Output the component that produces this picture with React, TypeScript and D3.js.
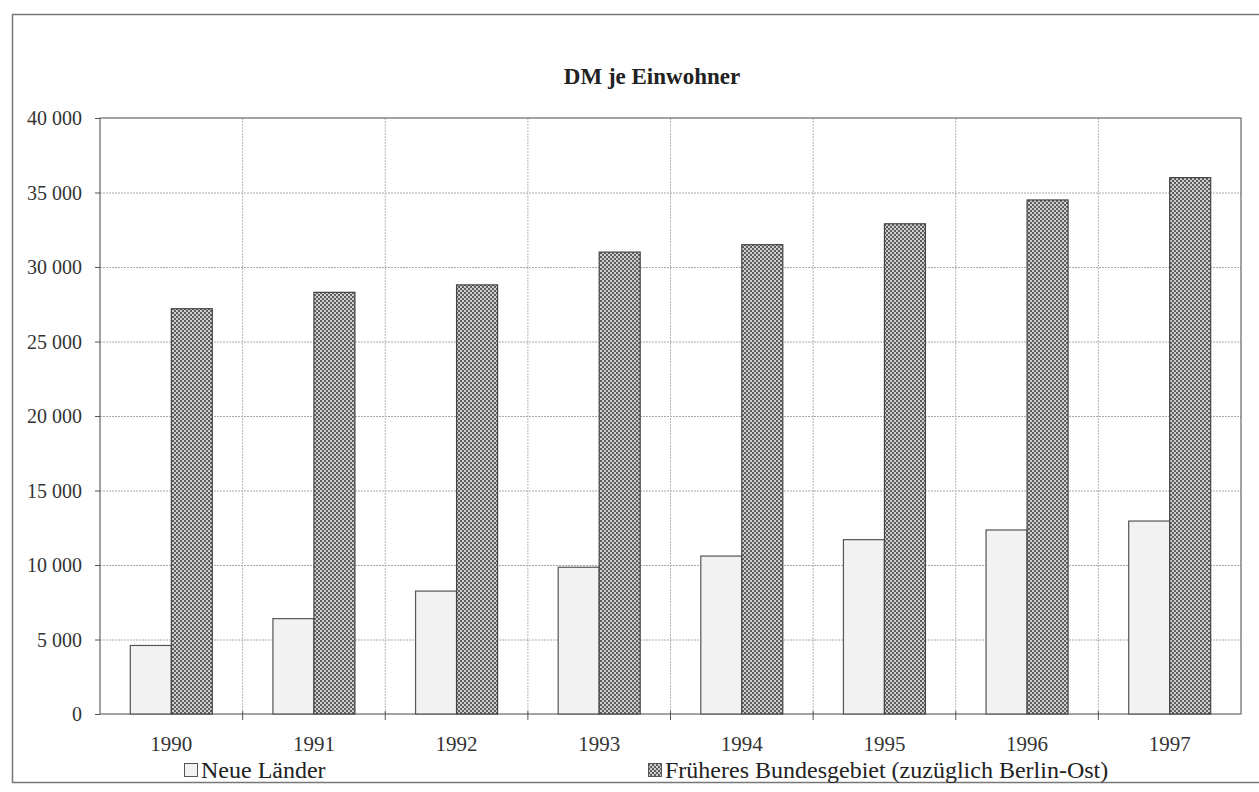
import React, { useEffect, useRef } from 'react';
import * as d3 from 'd3';

const years = ['1990', '1991', '1992', '1993', '1994', '1995', '1996', '1997'];
const neueLaender = [4600, 6400, 8250, 9850, 10600, 11700, 12350, 12950];
const frueheresGebiet = [27200, 28300, 28800, 31000, 31500, 32900, 34500, 36000];
const yTicks = [0, 5000, 10000, 15000, 20000, 25000, 30000, 35000, 40000];
const seriesNames = ['Neue Länder', 'Früheres Bundesgebiet (zuzüglich Berlin-Ost)'];

const W = 1259;
const H = 792;

export default function App() {
  const svgRef = useRef<SVGSVGElement>(null);

  useEffect(() => {
    if (!svgRef.current) return;
    const svg = d3.select(svgRef.current);
    svg.selectAll('*').remove();

    const font = '"Liberation Serif", "DejaVu Serif", serif';
    const margin = { top: 118, right: 18, bottom: 78, left: 100 };
    const x0 = margin.left;
    const x1 = W - margin.right;
    const y0 = H - margin.bottom;
    const y1 = margin.top;

    // checker pattern for the dark series
    const defs = svg.append('defs');
    const pat = defs.append('pattern')
      .attr('id', 'checker')
      .attr('width', 4)
      .attr('height', 4)
      .attr('patternUnits', 'userSpaceOnUse');
    pat.append('rect').attr('width', 4).attr('height', 4).attr('fill', '#cfcfcf');
    pat.append('rect').attr('width', 2).attr('height', 2).attr('fill', '#5e5e5e');
    pat.append('rect').attr('x', 2).attr('y', 2).attr('width', 2).attr('height', 2).attr('fill', '#5e5e5e');

    // outer frame (runs off the right edge)
    svg.append('rect')
      .attr('x', 12.5).attr('y', 14.5)
      .attr('width', W + 20).attr('height', 768)
      .attr('fill', 'none').attr('stroke', '#777').attr('stroke-width', 1.5);

    const x = d3.scaleBand<string>().domain(years).range([x0, x1]);
    const y = d3.scaleLinear().domain([0, 40000]).range([y0, y1]);

    // gridlines
    const g = svg.append('g');
    g.selectAll('.hgrid')
      .data(yTicks.filter(t => t > 0 && t < 40000))
      .enter()
      .append('line')
      .attr('x1', x0).attr('x2', x1)
      .attr('y1', d => y(d) + 0.5).attr('y2', d => y(d) + 0.5)
      .attr('stroke', '#a8a8a8').attr('stroke-dasharray', '2,1');
    g.selectAll('.vgrid')
      .data(years.slice(1))
      .enter()
      .append('line')
      .attr('x1', d => x(d)!).attr('x2', d => x(d)!)
      .attr('y1', y1).attr('y2', y0)
      .attr('stroke', '#b5b5b5').attr('stroke-dasharray', '2,1');

    // plot frame
    svg.append('rect')
      .attr('x', x0).attr('y', y1)
      .attr('width', x1 - x0).attr('height', y0 - y1)
      .attr('fill', 'none').attr('stroke', '#666').attr('stroke-width', 1.2);

    const barW = 41;
    const bars = svg.append('g');
    years.forEach((yr, i) => {
      const c = x(yr)! + x.bandwidth() / 2;
      bars.append('rect')
        .attr('x', c - barW).attr('y', y(neueLaender[i]))
        .attr('width', barW).attr('height', y0 - y(neueLaender[i]))
        .attr('fill', '#f2f2f2').attr('stroke', '#555').attr('stroke-width', 1.2);
      bars.append('rect')
        .attr('x', c).attr('y', y(frueheresGebiet[i]))
        .attr('width', barW).attr('height', y0 - y(frueheresGebiet[i]))
        .attr('fill', 'url(#checker)').attr('stroke', '#444').attr('stroke-width', 1.2);
    });

    // axes
    const yAxis = svg.append('g')
      .attr('transform', `translate(${x0},0)`)
      .call(d3.axisLeft(y).tickValues(yTicks).tickSize(5).tickPadding(13)
        .tickFormat(d => d3.format(',')(d as number).replace(',', ' ')));
    yAxis.select('.domain').remove();
    yAxis.selectAll('line').attr('stroke', '#555');
    yAxis.selectAll('text')
      .attr('font-family', font).attr('font-size', 20).attr('fill', '#333')
      .attr('dy', '0.34em');

    const xAxis = svg.append('g')
      .attr('transform', `translate(0,${y0})`)
      .call(d3.axisBottom(x).tickSize(0).tickPadding(22));
    xAxis.select('.domain').remove();
    xAxis.selectAll('text').attr('font-family', font).attr('font-size', 21).attr('fill', '#333');
    svg.append('g').selectAll('line')
      .data(years.slice(1))
      .enter()
      .append('line')
      .attr('x1', d => x(d)!).attr('x2', d => x(d)!)
      .attr('y1', y0 - 3).attr('y2', y0 + 6)
      .attr('stroke', '#555');

    // title
    svg.append('text')
      .attr('x', 652).attr('y', 84)
      .attr('text-anchor', 'middle')
      .attr('font-family', font).attr('font-size', 23).attr('font-weight', 'bold')
      .attr('fill', '#222')
      .text('DM je Einwohner');

    // legend
    const legend = [
      { name: seriesNames[0], x: 184, fill: '#f2f2f2' },
      { name: seriesNames[1], x: 648, fill: 'url(#checker)' }
    ];
    legend.forEach(l => {
      svg.append('rect')
        .attr('x', l.x + 0.5).attr('y', 763.5)
        .attr('width', 13).attr('height', 13)
        .attr('fill', l.fill).attr('stroke', '#555');
      svg.append('text')
        .attr('x', l.x + 17).attr('y', 778)
        .attr('font-family', font).attr('font-size', 24).attr('fill', '#222')
        .text(l.name);
    });
  }, []);

  return (
    <svg
      ref={svgRef}
      width={W}
      height={H}
      style={{ position: 'absolute', left: 0, top: 0, background: '#fff' }}
    />
  );
}
